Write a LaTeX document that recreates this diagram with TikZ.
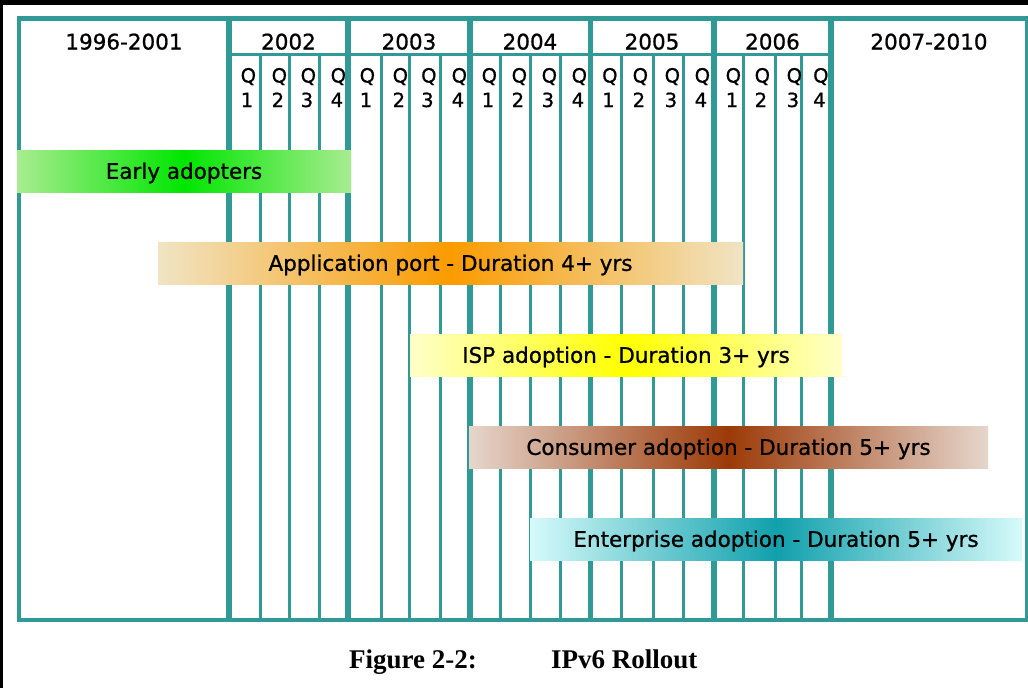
\documentclass[tikz,border=0pt]{standalone}
\usepackage{fontspec}
\setmainfont{DejaVu Sans}
\newfontfamily\lblfont{DejaVu Sans}[FakeBold=0.9]
\newfontfamily\capfont{Liberation Serif}
\definecolor{gridteal}{RGB}{50,154,150}
\definecolor{earlyE}{RGB}{168,236,144}
\definecolor{earlyC}{RGB}{0,230,0}
\definecolor{appE}{RGB}{240,228,196}
\definecolor{appC}{RGB}{250,155,0}
\definecolor{ispE}{RGB}{255,255,200}
\definecolor{ispC}{RGB}{255,255,0}
\definecolor{consE}{RGB}{230,214,204}
\definecolor{consC}{RGB}{156,58,8}
\definecolor{entE}{RGB}{214,250,250}
\definecolor{entC}{RGB}{16,160,172}
\begin{document}
\begin{tikzpicture}[x=1pt,y=-1pt,
  frameline/.style={draw=gridteal,line width=4.5pt},
  yearline/.style={draw=gridteal,line width=5.5pt},
  qline/.style={draw=gridteal,line width=3pt},
  hline/.style={draw=gridteal,line width=3.5pt},
  yearlbl/.style={anchor=base,inner sep=0pt,font=\lblfont\fontsize{21.5}{26}\selectfont},
  qlbl/.style={anchor=base west,inner sep=0pt,font=\lblfont\fontsize{19.5}{24}\selectfont},
  bar/.style={rectangle,inner sep=0pt,minimum height=42pt,text height=15.7pt,text depth=0pt,font=\lblfont\fontsize{21.5}{26}\selectfont},
  caplbl/.style={anchor=base west,inner sep=0pt,font=\capfont\bfseries\fontsize{27}{32}\selectfont}
]
\useasboundingbox (0,0) rectangle (1028,688);
\fill[white] (0,0) rectangle (1028,688);
\fill[black] (0,0) rectangle (1028,5);
\fill[black] (0,0) rectangle (3,688);
% grid
\draw[frameline] (19,18.5) rectangle (1027,620);
\foreach \x in {229,348,470,590.5,714,831}
  \draw[yearline] (\x,18.5) -- (\x,620);
\foreach \x in {260,289,319,381,409.5,440,500,530,560,621,653,683,743,775,801.5}
  \draw[qline] (\x,54.5) -- (\x,620);
\draw[hline] (229,54.5) -- (831,54.5);
% year labels
\node[yearlbl] (y1996) at (124,49.5) {1996-2001};
\node[yearlbl] (y2002) at (288.5,49.5) {2002};
\node[yearlbl] (y2003) at (409,49.5) {2003};
\node[yearlbl] (y2004) at (530,49.5) {2004};
\node[yearlbl] (y2005) at (652,49.5) {2005};
\node[yearlbl] (y2006) at (772.5,49.5) {2006};
\node[yearlbl] (y2007) at (929,49.5) {2007-2010};
% quarter labels
\foreach \x [count=\i] in {229,260,289,319,348,381,409.5,440,470,500,530,560,590.5,621,653,683,714,743,775,801.5}{
  \pgfmathtruncatemacro\qn{mod(\i-1,4)+1}
  \node[qlbl] (q\i) at (\x+11.5,82.5) {Q};
  \node[qlbl] (d\i) at (\x+11.5,107) {\qn};
}
% bars
\node[bar,minimum width=334pt,left color=earlyE,right color=earlyE,middle color=earlyC] (early) at (184,171) {Early adopters};
\node[bar,minimum width=585pt,left color=appE,right color=appE,middle color=appC] (app) at (450.5,263) {Application port - Duration 4+ yrs};
\node[bar,minimum width=432pt,left color=ispE,right color=ispE,middle color=ispC] (isp) at (626,355) {ISP adoption - Duration 3+ yrs};
\node[bar,minimum width=519pt,left color=consE,right color=consE,middle color=consC] (cons) at (728.5,447) {Consumer adoption - Duration 5+ yrs};
\node[bar,minimum width=492pt,left color=entE,right color=entE,middle color=entC] (ent) at (776,539) {Enterprise adoption - Duration 5+ yrs};
% caption
\node[caplbl] (fignum) at (349,668) {Figure 2-2:};
\node[caplbl] (figtitle) at (551,668) {IPv6 Rollout};
\end{tikzpicture}
\end{document}
